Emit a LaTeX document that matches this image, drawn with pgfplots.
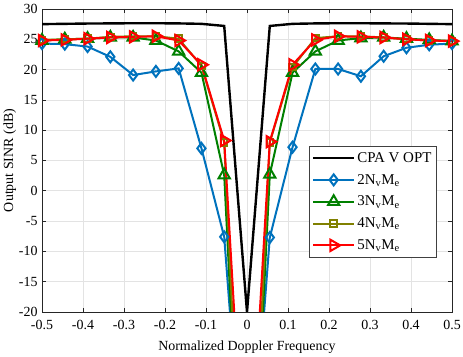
\documentclass[border=0pt]{standalone}
\usepackage{fontspec}
\setmainfont{Liberation Serif}
\usepackage{pgfplots}
\pgfplotsset{compat=1.18}
\definecolor{mblue}{RGB}{0,114,189}
\definecolor{mgreen}{RGB}{0,128,0}
\definecolor{molive}{RGB}{128,128,0}
\definecolor{mred}{RGB}{255,0,0}

\pgfplotstableread{
x       opt    n2     n3     n4     n5
-0.5    27.50  24.3   24.8   24.9   24.8
-0.4444 27.55  24.2   25.0   25.0   24.9
-0.3889 27.60  23.8   25.1   25.1   25.1
-0.3333 27.62  22.1   25.3   25.4   25.3
-0.2778 27.65  19.1   25.3   25.5   25.4
-0.2222 27.65  19.7   24.8   25.5   25.5
-0.1667 27.62  20.2   23.0   25.1   24.8
-0.1111 27.55  7.0    19.5   20.6   20.8
-0.0556 27.20  -7.6   2.6    8.0    8.3
0       -20.0  -57    -73    -71    -56
0.0556  27.20  -7.7   2.7    8.0    8.1
0.1111  27.55  7.2    19.5   20.4   20.8
0.1667  27.62  20.1   23.0   25.2   24.9
0.2222  27.65  20.1   24.8   25.5   25.5
0.2778  27.65  18.9   25.2   25.5   25.4
0.3333  27.62  22.2   25.3   25.3   25.3
0.3889  27.60  23.6   25.1   25.0   25.0
0.4444  27.55  24.1   24.9   24.8   24.8
0.5     27.50  24.3   24.7   24.7   24.7
}\sinr

\begin{document}
\begin{tikzpicture}
\begin{axis}[
    scale only axis,
    width=410bp,
    height=303bp,
    xmin=-0.5, xmax=0.5,
    ymin=-20, ymax=30,
    xtick={-0.5,-0.4,-0.3,-0.2,-0.1,0,0.1,0.2,0.3,0.4,0.5},
    ytick={-20,-15,-10,-5,0,5,10,15,20,25,30},
    xticklabel style={/pgf/number format/fixed, /pgf/number format/precision=1, yshift=-5bp},
    yticklabel style={xshift=-1bp},
    /pgf/number format/assume math mode=true,
    tick label style={font=\fontsize{14}{16}\selectfont},
    label style={font=\fontsize{14}{16}\selectfont},
    xlabel={Normalized Doppler Frequency},
    ylabel={Output SINR (dB)},
    xlabel style={yshift=-4bp},
    ylabel style={yshift=-4bp},
    tick align=inside,
    major tick length=4bp,
    axis line style={line width=0.7bp, black!85},
    tick style={line width=0.6bp, black!85},
    grid=major,
    grid style={gray!22, line width=0.6bp},
    legend cell align=left,
    legend style={
        at={(0.963,0.548)}, anchor=north east,
        font=\fontsize{15}{17}\selectfont,
        draw=black!75, line width=0.7bp,
        inner xsep=3bp, inner ysep=4bp, row sep=6.5bp,
    },
    legend image code/.code={
        \draw[mark repeat=2,mark phase=2] plot coordinates {(0cm,0cm) (0.72cm,0cm) (1.44cm,0cm)};
    },
    every axis plot/.append style={line width=2bp},
]
\addplot[black, line width=2.4bp] table[x=x, y=opt] {\sinr};
\addplot[mblue, line width=2bp, mark=diamond, mark size=5.5bp, mark options={fill=none}] table[x=x, y=n2] {\sinr};
\addplot[mgreen, line width=2bp, mark=triangle, mark size=6.5bp, mark options={fill=none}] table[x=x, y=n3] {\sinr};
\addplot[molive, line width=2bp, mark=square, mark size=3.2bp, mark options={fill=none}] table[x=x, y=n4] {\sinr};
\addplot[mred, line width=2bp, mark=triangle, mark size=6.5bp, mark options={fill=none, rotate=-90}] table[x=x, y=n5] {\sinr};
\legend{CPA V OPT, 2N\textsubscript{v}M\textsubscript{e}, 3N\textsubscript{v}M\textsubscript{e}, 4N\textsubscript{v}M\textsubscript{e}, 5N\textsubscript{v}M\textsubscript{e}}
\end{axis}
\pgfresetboundingbox
\path ([shift={(-42bp,-45bp)}]current axis.south west) rectangle ([shift={(11bp,9bp)}]current axis.north east);
\end{tikzpicture}
\end{document}
